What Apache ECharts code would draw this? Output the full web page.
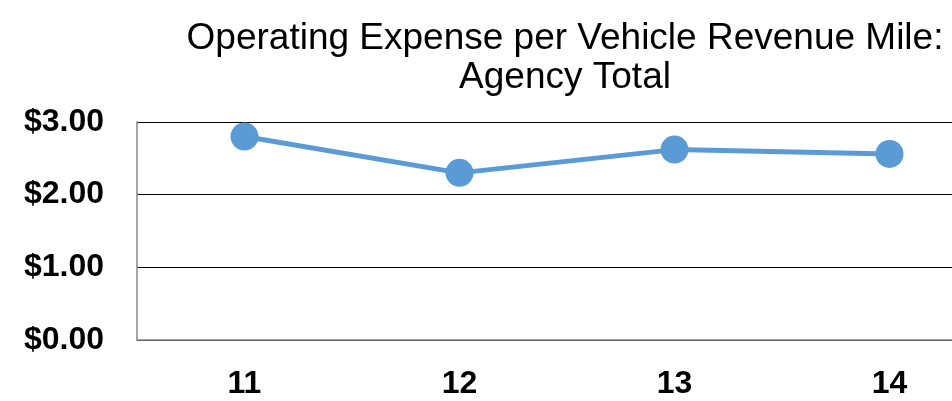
<!DOCTYPE html>
<html>
<head>
<meta charset="utf-8">
<script src="https://cdn.jsdelivr.net/npm/echarts@6/dist/echarts.min.js"></script>
<style>
  html, body { margin: 0; padding: 0; background: #fff; overflow: hidden; }
  #chart { width: 1000px; height: 401px; }
</style>
</head>
<body>
<div id="chart"></div>
<script>
const years = ['11', '12', '13', '14'];
const costPerMile = [2.80, 2.30, 2.62, 2.56];
const yTicks = [0, 1, 2, 3];

// the plot runs past the right edge of the window, as in the original
const chart = echarts.init(document.getElementById('chart'));
chart.setOption({
  animation: false,
  title: {
    text: 'Operating Expense per Vehicle Revenue Mile:\nAgency Total',
    left: 560,
    top: 14,
    textAlign: 'center',
    textStyle: {
      fontFamily: 'Liberation Sans, Arial, sans-serif',
      fontSize: 37,
      fontWeight: 'normal',
      color: '#000',
      lineHeight: 39
    }
  },
  grid: { left: 137, top: 122, bottom: 61, right: 3, containLabel: false },
  xAxis: {
    type: 'category',
    data: years,
    boundaryGap: true,
    axisLine: { lineStyle: { color: '#868686', width: 1.5 } },
    axisTick: { show: false },
    axisLabel: {
      margin: 28,
      fontFamily: 'Liberation Sans, Arial, sans-serif',
      fontSize: 32,
      fontWeight: 'bold',
      color: '#000'
    }
  },
  yAxis: {
    type: 'value',
    min: yTicks[0],
    max: yTicks[yTicks.length - 1],
    interval: 1,
    axisLine: { show: true, lineStyle: { color: '#868686', width: 1.5 } },
    axisTick: { show: false },
    splitLine: { lineStyle: { color: '#000', width: 1 } },
    axisLabel: {
      margin: 33,
      fontFamily: 'Liberation Sans, Arial, sans-serif',
      fontSize: 32,
      fontWeight: 'bold',
      color: '#000',
      formatter: v => '$' + v.toFixed(2)
    }
  },
  series: [{
    type: 'line',
    data: costPerMile,
    symbol: 'circle',
    symbolSize: 28,
    lineStyle: { color: '#5B9BD5', width: 5 },
    itemStyle: { color: '#5B9BD5' }
  }]
});
</script>
</body>
</html>
